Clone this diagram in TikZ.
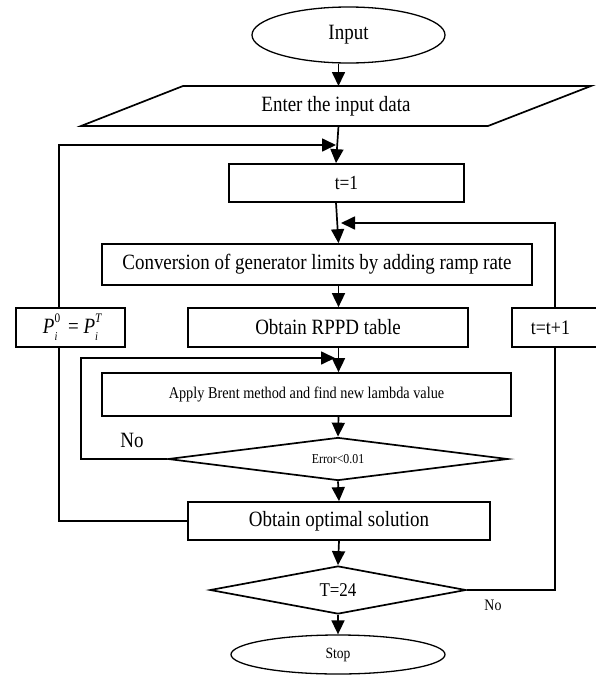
\documentclass[tikz,border=0pt]{standalone}
\usepackage{fontspec}
\setmainfont[FakeStretch=0.87]{Liberation Serif}
\usetikzlibrary{shapes.geometric,arrows.meta,calc}
\newcommand\fs[1]{\fontsize{#1}{#1}\selectfont}
\newcommand\mysupsub[1]{\rlap{\raisebox{0.5em}{\fs{13}#1}}\raisebox{-0.32em}{\fs{12}\itshape i}\hspace{7pt}}
\begin{document}
\begin{tikzpicture}[x=1pt,y=-1pt,
  line width=1.7pt,
  box/.style={draw, rectangle, inner sep=0pt, font=\fs{21.8}},
  ell/.style={draw, ellipse, inner sep=0pt, line width=1.3pt},
  dia/.style={draw, diamond, inner sep=0pt, aspect=7},
  arr/.style={-{Triangle[length=14pt,width=13pt]}},
  lbl/.style={inner sep=0pt}
]
\useasboundingbox (0,0) rectangle (596,675);
% guide coordinates
\coordinate (mx) at (338.5,0);
\coordinate (lx) at (59,0);
\coordinate (ix) at (81,0);
\coordinate (rx) at (555,0);
% nodes
\node[ell, minimum width=193pt, minimum height=56pt, font=\fs{21.8}] (input) at (348.5,35) {Input};
\draw (183,86) -- (591,86) -- (488,126) -- (81,126) -- cycle;
\node[lbl, font=\fs{21.8}] (enter) at (336,106) {Enter the input data};
\coordinate (entertop) at (338.5,86);
\coordinate (enterbot) at (338.5,126);
\node[box, minimum width=235pt, minimum height=38pt, font=\fs{20}] (t1) at (346.5,183) {t=1};
\node[box, minimum width=430pt, minimum height=41pt] (conv) at (317,264.5) {Conversion of generator limits by adding ramp rate};
\node[box, minimum width=280pt, minimum height=39pt] (rppd) at (328,327.5) {Obtain RPPD table};
\node[box, minimum width=109pt, minimum height=39pt] (pbox) at (70.5,327.5) {\itshape P\upshape\mysupsub{0}\,= \itshape P\mysupsub{T}};
\node[box, anchor=west, minimum width=100pt, minimum height=39pt, text width=62pt, inner xsep=19pt, align=left, font=\fs{20.6}] (tt1) at (511,327.5) {t=t+1};
\node[box, minimum width=409pt, minimum height=43pt, font=\fs{16.4}] (brent) at (306.5,394.5) {Apply Brent method and find new lambda value};
\node[dia, minimum width=340pt, minimum height=43pt, font=\fs{13.6}] (err) at (338,459) {Error<0.01};
\node[box, minimum width=302pt, minimum height=38pt] (opt) at (339,521) {Obtain optimal solution};
\node[dia, minimum width=256pt, minimum height=48pt, font=\fs{19.5}] (t24) at (338,590) {T=24};
\node[ell, minimum width=214pt, minimum height=39pt, font=\fs{15.6}] (stop) at (338,654.5) {Stop};
\node[lbl, font=\fs{21.8}] (no1) at (132,440) {No};
\node[lbl, font=\fs{16}] (no2) at (493,605) {No};
% loop targets
\coordinate (fb1) at (336,145);
\coordinate (fb2) at (341,223);
\coordinate (fb3) at (335,358);
% main flow
\draw[arr] (input.south -| mx) -- (entertop);
\draw[arr] (enterbot) -- (t1.north -| fb1);
\draw[arr] (t1.south -| fb1) -- (conv.north -| mx);
\draw[arr] (conv.south -| mx) -- (rppd.north -| mx);
\draw[arr] (rppd.south -| mx) -- (brent.north -| mx);
\draw[arr] (brent.south -| mx) -- (err.north);
\draw[arr] (err.south) -- (opt.north);
\draw[arr] (opt.south) -- (t24.north);
\draw[arr] (t24.south) -- (stop.north);
% left loop
\draw (opt.west) -- (opt.west -| lx) -- (pbox.south -| lx);
\draw[arr] (pbox.north -| lx) -- (fb1 -| lx) -- (fb1);
% inner loop
\draw[arr] (err.west) -- (err.west -| ix) -- (fb3 -| ix) -- (fb3);
% right loop
\draw (t24.east) -- (t24.east -| rx) -- (tt1.south -| rx);
\draw[arr] (tt1.north -| rx) -- (fb2 -| rx) -- (fb2);
\end{tikzpicture}
\end{document}
